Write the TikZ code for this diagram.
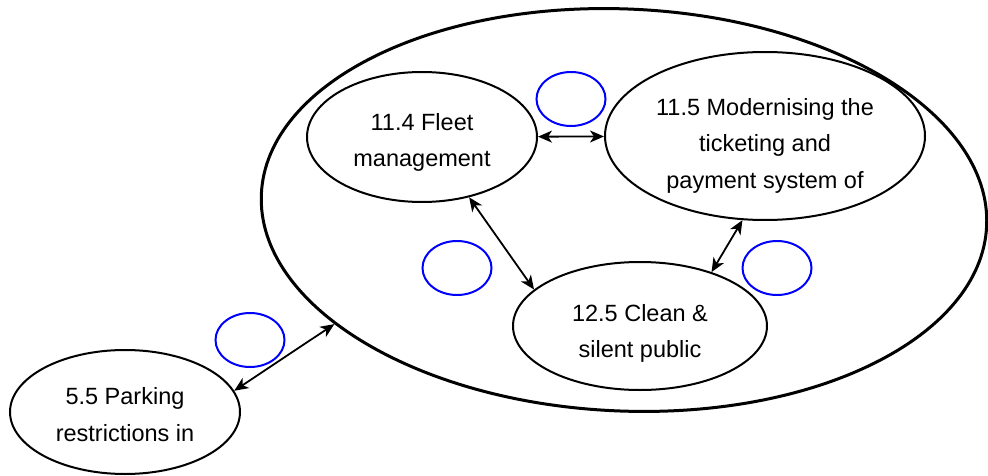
\documentclass[tikz,border=0pt]{standalone}
\usepackage{fontspec}
\setmainfont{Liberation Sans}
\usetikzlibrary{shapes.geometric,arrows.meta}

\begin{document}
\begin{tikzpicture}[x=1pt, y=-1pt,
        font=\fontsize{23.5pt}{36.5pt}\selectfont,
        topic/.style={draw, ellipse, line width=2pt, inner sep=0pt, align=center},
        tag/.style={draw=blue, ellipse, line width=2pt, minimum width=69pt, minimum height=54pt},
        link/.style={<->, line width=1.8pt, >={Stealth[length=14pt,width=12pt,inset=4pt]}}]
        \useasboundingbox (0,0) rectangle (988,476);

        \node[topic, line width=3pt, minimum width=726pt, minimum height=402pt, rotate=-2.5] (G) at (624,210) {};
        \node[topic, minimum width=230pt, minimum height=130pt, text height=64pt] (F) at (422,137) {11.4 Fleet\\management};
        \node[topic, minimum width=320pt, minimum height=168pt, text height=109pt] (M) at (765,136) {11.5 Modernising the\\ticketing and\\payment system of};
        \node[topic, minimum width=254pt, minimum height=128pt, text height=68pt] (C) at (640,326) {12.5 Clean \&\\silent public};
        \node[topic, minimum width=230pt, minimum height=124pt, text height=59pt] (P) at (125,412) {5.5 Parking\\restrictions in};

        \node[tag] (N1) at (571,99)  {};
        \node[tag] (N2) at (457,268) {};
        \node[tag] (N3) at (777,268) {};
        \node[tag] (N4) at (250,340) {};

        \path[link] (F) edge (M);
        \path[link] (F.-52) edge (C.161);
        \path[link] (M.-105) edge (C.37);
        \path[link] (P.11) edge (G.-156);
    \end{tikzpicture}
\end{document}
